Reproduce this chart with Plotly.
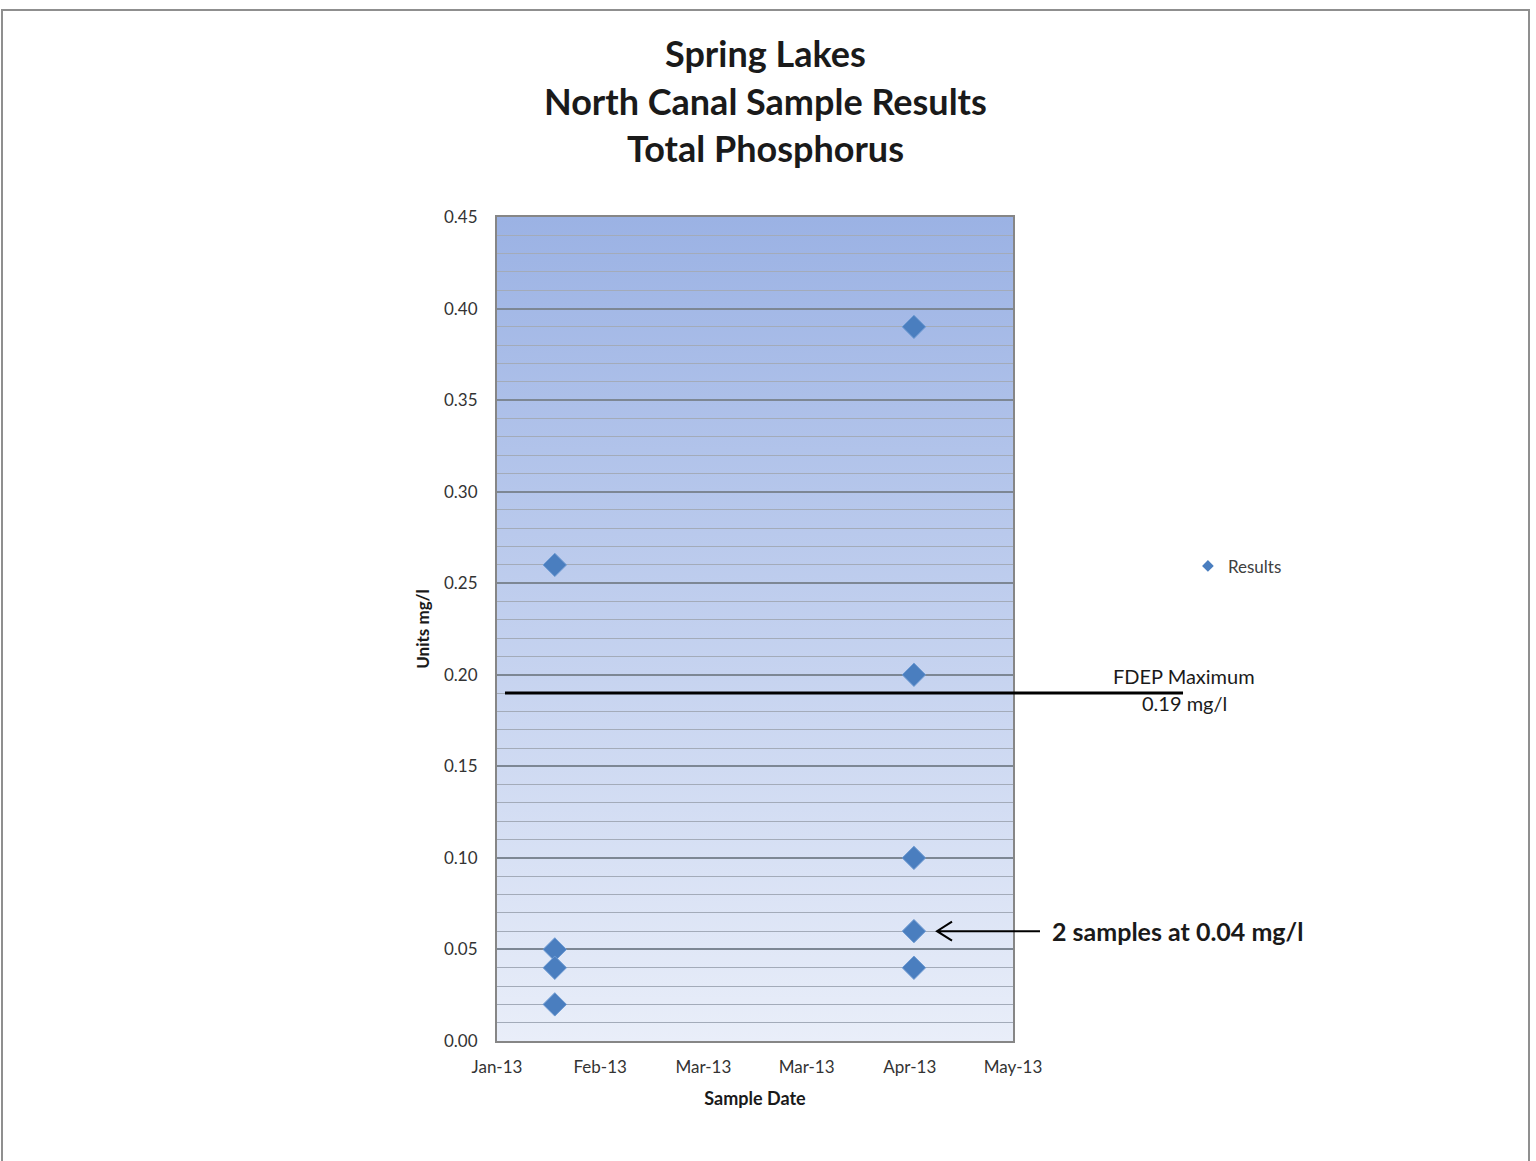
import urllib.parse
import plotly.graph_objects as go

# Sample results (Total Phosphorus, mg/l)
sample_dates = ["2013-01-24", "2013-01-24", "2013-01-24", "2013-01-24",
                "2013-04-21", "2013-04-21", "2013-04-21", "2013-04-21", "2013-04-21"]
phosphorus = [0.26, 0.05, 0.04, 0.02,
              0.39, 0.20, 0.10, 0.06, 0.04]

# FDEP maximum threshold (mg/l)
fdep_max = 0.19

# Date axis: range and tick positions (25-day spacing)
x_range = ["2013-01-10", "2013-05-15"]
x_ticks = ["2013-01-10", "2013-02-04", "2013-03-01", "2013-03-26", "2013-04-20", "2013-05-15"]
y_range = [0, 0.45]

title_lines = ["Spring Lakes", "North Canal Sample Results", "Total Phosphorus"]

FONT = "Lato, 'Open Sans', sans-serif"
MARKER = "#4a7ebf"

fig = go.Figure()

fig.add_trace(go.Scatter(
    x=sample_dates, y=phosphorus, mode="markers", name="Results",
    showlegend=False, hoverinfo="x+y",
    marker=dict(symbol="diamond", size=18, color=MARKER,
                line=dict(color="#6f9bd3", width=1)),
))
# legend entry with the smaller key symbol
fig.add_trace(go.Scatter(
    x=[None], y=[None], mode="markers", name="Results",
    marker=dict(symbol="diamond", size=9, color=MARKER),
))

# vertical blue gradient behind the plot area
svg = ('<svg xmlns="http://www.w3.org/2000/svg" width="10" height="100" preserveAspectRatio="none">'
       '<defs><linearGradient id="g" x1="0" y1="0" x2="0" y2="1">'
       '<stop offset="0" stop-color="#9bb2e4"/><stop offset="1" stop-color="#e9eef9"/>'
       '</linearGradient></defs><rect width="10" height="100" fill="url(#g)"/></svg>')
fig.add_layout_image(dict(
    source="data:image/svg+xml;charset=utf-8," + urllib.parse.quote(svg),
    xref="paper", yref="paper", x=0, y=1, sizex=1, sizey=1,
    sizing="stretch", xanchor="left", yanchor="top", layer="below",
))

# FDEP maximum line, extending past the plot area
fig.add_shape(type="line", xref="paper", yref="y", x0=0.0155, x1=1.3295,
              y0=fdep_max, y1=fdep_max, line=dict(color="black", width=3))

# arrow pointing at the duplicated sample
fig.add_shape(type="path", xref="paper", yref="y",
              path="M 1.0523,0.06 L 0.8527,0.06 M 0.8818,0.0652 L 0.8527,0.06 L 0.8818,0.0548",
              line=dict(color="black", width=2))

# outer chart border
fig.add_shape(type="rect", xref="paper", yref="paper", x0=-0.9593, x1=2.0,
              y0=-0.16, y1=1.2512, line=dict(color="#8f8f8f", width=2))

# title lines
for text, ypos in zip(title_lines, [1.199, 1.1408, 1.0837]):
    fig.add_annotation(text=text, xref="paper", yref="paper", x=0.5213, y=ypos,
                       xanchor="center", yanchor="middle", showarrow=False,
                       font=dict(family=FONT, size=36, color="#1a1a1a", weight="bold"))

fig.add_annotation(text="FDEP Maximum", xref="paper", yref="paper", x=1.3314, y=0.443,
                   xanchor="center", yanchor="middle", showarrow=False,
                   font=dict(family=FONT, size=20, color="#1a1a1a"))
fig.add_annotation(text="0.19 mg/l", xref="paper", yref="paper", x=1.3314, y=0.4102,
                   xanchor="center", yanchor="middle", showarrow=False,
                   font=dict(family=FONT, size=20, color="#1a1a1a"))
fig.add_annotation(text="2 samples at 0.04 mg/l", xref="paper", yref="y", x=1.0717, y=0.06,
                   xanchor="left", yanchor="middle", showarrow=False,
                   font=dict(family=FONT, size=25, color="#1a1a1a", weight="bold"))

fig.update_layout(
    width=1536, height=1161,
    margin=dict(l=497, r=523, t=217, b=120),
    paper_bgcolor="white", plot_bgcolor="rgba(0,0,0,0)",
    font=dict(family=FONT, color="#333333", size=17),
    legend=dict(x=1.339, y=0.576, xanchor="left", yanchor="middle",
                bgcolor="rgba(0,0,0,0)", font=dict(size=17, color="#404040")),
)

fig.update_xaxes(
    type="date", range=x_range, tickvals=x_ticks, tickformat="%b-%y",
    showgrid=False, showline=True, linecolor="#868686", linewidth=2, mirror=True,
    ticks="", ticklabelstandoff=10, zeroline=False,
    title=dict(text="Sample Date", standoff=16,
               font=dict(family=FONT, size=18, color="#1a1a1a", weight="bold")),
)
fig.update_yaxes(
    range=y_range, dtick=0.05, tickformat=".2f",
    showgrid=True, gridcolor="#7d8794", gridwidth=1.5,
    minor=dict(dtick=0.01, showgrid=True, gridcolor="#a3abb9", gridwidth=1),
    showline=True, linecolor="#868686", linewidth=2, mirror=True,
    ticks="", ticklabelstandoff=14, zeroline=False,
    title=dict(text="Units mg/l", standoff=10,
               font=dict(family=FONT, size=17, color="#1a1a1a", weight="bold")),
)

fig.write_html("out.html")
